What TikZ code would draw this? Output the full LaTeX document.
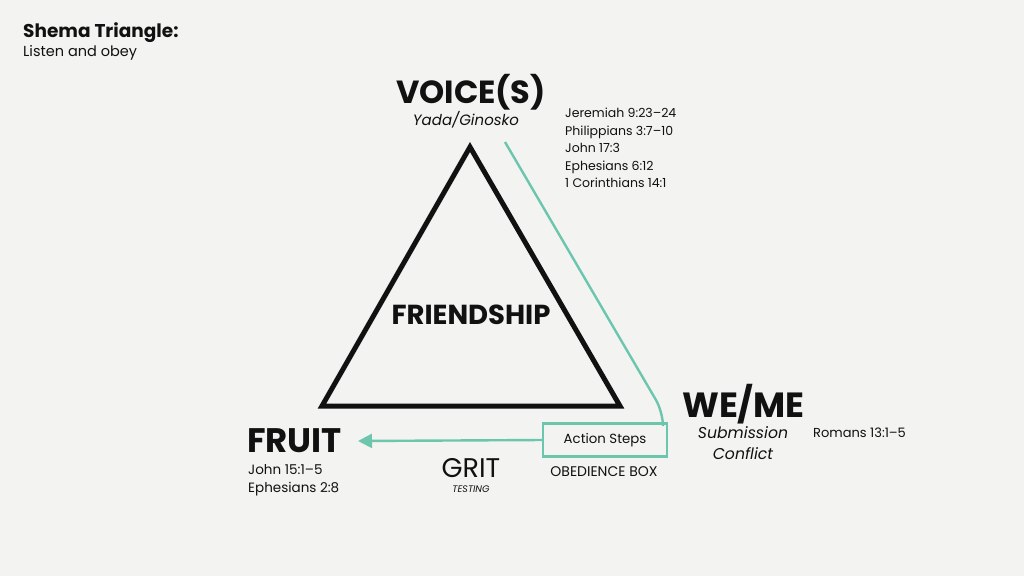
\documentclass[tikz,border=0pt]{standalone}
\usepackage{fontspec}
\setmainfont{Poppins}
\usetikzlibrary{arrows.meta}
\definecolor{bg}{HTML}{F3F3F1}
\definecolor{teal}{HTML}{6CC6AE}
\definecolor{ink}{HTML}{111111}
\tikzset{
  big/.style={font=\fontsize{32}{34}\selectfont\bfseries, text=ink, inner sep=0pt},
  ital/.style={font=\fontsize{15}{17}\selectfont\itshape, text=ink, inner sep=0pt},
  small/.style={font=\fontsize{12.5}{17.5}\selectfont, text=ink, inner sep=0pt},
  tealline/.style={draw=teal, line width=2.4pt},
}
\begin{document}
\begin{tikzpicture}[x=1pt,y=-1pt]
\useasboundingbox[fill=bg] (0,0) rectangle (1024,576);
% title
\node[anchor=west, inner sep=0pt, font=\fontsize{18.5}{20}\selectfont\bfseries, text=ink] (title) at (23,33) {Shema Triangle:};
\node[anchor=west, inner sep=0pt, font=\fontsize{14.5}{16}\selectfont, text=ink] (sub) at (23,53) {Listen and obey};
% triangle
\coordinate (A) at (470,147);
\coordinate (B) at (322,406);
\coordinate (C) at (620,406);
\draw[line width=5pt, draw=ink, line join=miter] (A) -- (B) -- (C) -- cycle;
\node[font=\fontsize{27.5}{30}\selectfont\bfseries, text=ink, inner sep=0pt] (friend) at (471,315) {FRIENDSHIP};
% top
\node[big] (voice) at (471,92) {VOICE(S)};
\node[ital] (yada) at (466,120) {Yada/Ginosko};
\node[small, anchor=north west, align=left] (verses) at (565,108) {Jeremiah 9:23–24\\Philippians 3:7–10\\John 17:3\\Ephesians 6:12\\1 Corinthians 14:1};
% we/me
\node[big, anchor=west, font=\fontsize{35}{37}\selectfont\bfseries] (weme) at (682,404) {WE/ME};
\node[ital, align=center, font=\fontsize{15.7}{21}\selectfont\itshape] (sub2) at (743,443) {Submission\\Conflict};
\node[anchor=west, inner sep=0pt, font=\fontsize{13}{15}\selectfont, text=ink] (rom) at (813,433) {Romans 13:1–5};
% box
\node[draw=teal, line width=2.4pt, minimum width=124pt, minimum height=33pt, inner sep=0pt, font=\fontsize{13.3}{15}\selectfont, text=ink] (box) at (605,440) {Action Steps};
\node[inner sep=0pt, font=\fontsize{14}{16}\selectfont, text=ink] (obox) at (604,472) {OBEDIENCE BOX};
\coordinate (tstart) at (505,142);
\draw[tealline, rounded corners=14pt] (tstart) -- (663,412) -- (663,424);
% fruit
\node[big, anchor=base west, font=\fontsize{34}{36}\selectfont\bfseries] (fruit) at (247,452) {FRUIT};
\node[anchor=base west, inner sep=0pt, font=\fontsize{13.5}{18}\selectfont, text=ink] (fv1) at (248,474) {John 15:1–5};
\node[anchor=base west, inner sep=0pt, font=\fontsize{13.5}{18}\selectfont, text=ink] (fv2) at (248,492) {Ephesians 2:8};
\draw[tealline, -{Triangle[length=14pt,width=14pt]}] (box.west) -- (358,441) coordinate (tip);
% grit
\node[anchor=base, font=\fontsize{27}{29}\selectfont, text=ink, inner sep=0pt] (grit) at (471,477.5) {GRIT};
\node[anchor=base, font=\fontsize{9.5}{11}\selectfont\itshape, text=ink, inner sep=0pt] (test) at (471,492) {TESTING};
\end{tikzpicture}
\end{document}
